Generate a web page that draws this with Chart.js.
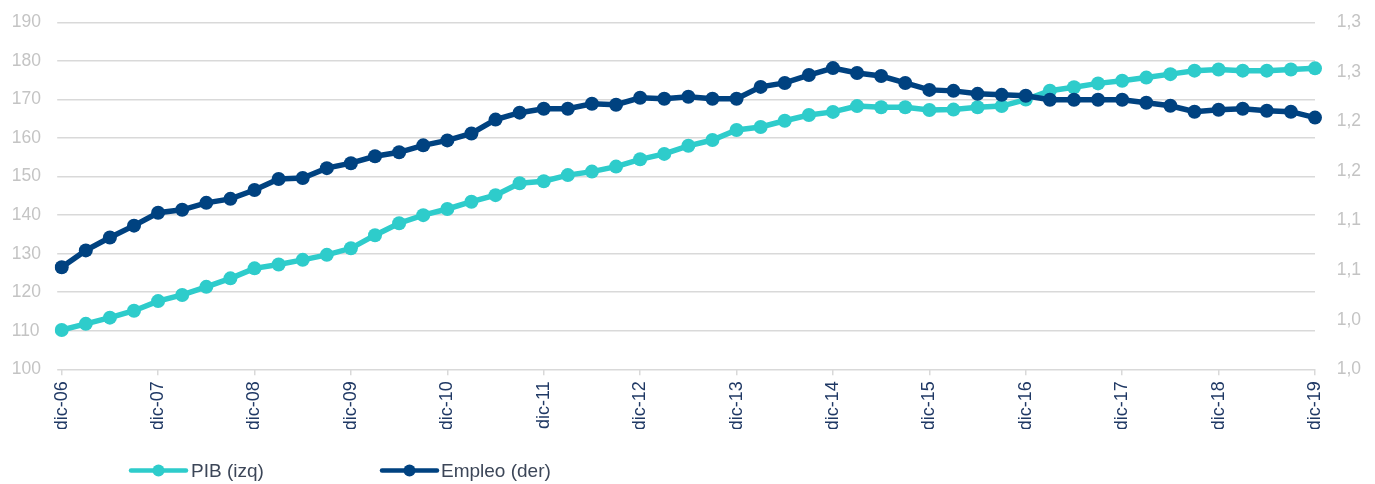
<!DOCTYPE html>
<html>
<head>
<meta charset="utf-8">
<script src="https://cdn.jsdelivr.net/npm/chart.js@4/dist/chart.umd.min.js"></script>
<style>
  html, body { margin: 0; padding: 0; background: #ffffff; }
  #wrap { width: 1375px; height: 484px; }
</style>
</head>
<body>
<div id="wrap"><canvas id="c" width="1375" height="484"></canvas></div>
<script>
// Quarterly categories, Dec-2006 .. Dec-2019
const categories = [
  'dic-06',
  'mar-07','jun-07','sep-07','dic-07',
  'mar-08','jun-08','sep-08','dic-08',
  'mar-09','jun-09','sep-09','dic-09',
  'mar-10','jun-10','sep-10','dic-10',
  'mar-11','jun-11','sep-11','dic-11',
  'mar-12','jun-12','sep-12','dic-12',
  'mar-13','jun-13','sep-13','dic-13',
  'mar-14','jun-14','sep-14','dic-14',
  'mar-15','jun-15','sep-15','dic-15',
  'mar-16','jun-16','sep-16','dic-16',
  'mar-17','jun-17','sep-17','dic-17',
  'mar-18','jun-18','sep-18','dic-18',
  'mar-19','jun-19','sep-19','dic-19'
];

// PIB (left axis)
const pibValues = [
  110.2,
  111.8, 113.4, 115.2, 117.7,
  119.3, 121.4, 123.6, 126.2,
  127.2, 128.4, 129.7, 131.4,
  134.8, 137.9, 140.0, 141.6,
  143.5, 145.2, 148.3, 148.8,
  150.4, 151.3, 152.6, 154.5,
  155.9, 158.0, 159.5, 162.1,
  162.9, 164.5, 166.0, 166.8,
  168.3, 168.0, 168.0, 167.3,
  167.4, 168.0, 168.3, 170.0,
  172.3, 173.2, 174.2, 174.9,
  175.7, 176.6, 177.5, 177.8,
  177.5, 177.5, 177.8, 178.1
];

// Empleo (right axis)
const empleoValues = [
  1.053,
  1.070, 1.083, 1.095, 1.108,
  1.111, 1.118, 1.122, 1.131,
  1.142, 1.143, 1.153, 1.158,
  1.165, 1.169, 1.176, 1.181,
  1.188, 1.202, 1.209, 1.213,
  1.213, 1.218, 1.217, 1.224,
  1.223, 1.225, 1.223, 1.223,
  1.235, 1.239, 1.247, 1.254,
  1.249, 1.246, 1.239, 1.232,
  1.231, 1.228, 1.227, 1.226,
  1.222, 1.222, 1.222, 1.222,
  1.219, 1.216, 1.210, 1.212,
  1.213, 1.211, 1.210, 1.204
];

const seriesNames = ['PIB (izq)', 'Empleo (der)'];
const leftTicks = { min: 100, max: 190, step: 10 };
const rightTicks = { min: 0.95, max: 1.30, step: 0.05 };

const TEAL = '#2ecccb';
const NAVY = '#004280';
const FONT = "'Liberation Sans', Arial, Helvetica, sans-serif";

// Legend drawn on the canvas below the plot (line + dot marker, then label)
const bottomLegend = {
  id: 'bottomLegend',
  afterDraw(chart) {
    const ctx = chart.ctx;
    const items = [
      { x0: 131, lineW: 55, textX: 191 },
      { x0: 382, lineW: 55, textX: 441 }
    ];
    const cy = 470.5;
    ctx.save();
    chart.data.datasets.forEach((ds, i) => {
      const it = items[i];
      ctx.strokeStyle = ds.borderColor;
      ctx.lineWidth = 4.5;
      ctx.lineCap = 'round';
      ctx.beginPath();
      ctx.moveTo(it.x0, cy);
      ctx.lineTo(it.x0 + it.lineW, cy);
      ctx.stroke();
      ctx.fillStyle = ds.borderColor;
      ctx.beginPath();
      ctx.arc(it.x0 + it.lineW / 2, cy, 6, 0, Math.PI * 2);
      ctx.fill();
      ctx.fillStyle = '#3c4658';
      ctx.font = '19px ' + FONT;
      ctx.textBaseline = 'middle';
      ctx.textAlign = 'left';
      ctx.fillText(ds.label, it.textX, cy + 1);
    });
    ctx.restore();
  }
};

new Chart(document.getElementById('c'), {
  type: 'line',
  data: {
    labels: categories,
    datasets: [
      {
        label: seriesNames[0],
        data: pibValues,
        yAxisID: 'y',
        borderColor: TEAL,
        backgroundColor: TEAL,
        pointBackgroundColor: TEAL,
        pointBorderColor: TEAL,
        borderWidth: 5.5,
        pointRadius: 7,
        pointBorderWidth: 0,
        tension: 0,
        order: 1
      },
      {
        label: seriesNames[1],
        data: empleoValues,
        yAxisID: 'y1',
        borderColor: NAVY,
        backgroundColor: NAVY,
        pointBackgroundColor: NAVY,
        pointBorderColor: NAVY,
        borderWidth: 5.5,
        pointRadius: 7,
        pointBorderWidth: 0,
        tension: 0,
        order: 0
      }
    ]
  },
  options: {
    responsive: false,
    animation: false,
    devicePixelRatio: 1,
    layout: { padding: { top: 22.5, bottom: 55, left: 11.7, right: 14 } },
    plugins: {
      legend: { display: false },
      tooltip: { enabled: false }
    },
    scales: {
      x: {
        type: 'category',
        offset: false,
        afterFit(scale) { scale.height = 59.7; },
        grid: {
          display: true,
          drawOnChartArea: false,
          drawTicks: true,
          tickLength: 6,
          color: '#d9d9d9',
          lineWidth: 1.5
        },
        border: { display: false },
        ticks: {
          autoSkip: false,
          maxRotation: 90,
          minRotation: 90,
          padding: 6,
          color: '#1f3864',
          font: { family: FONT, size: 18 },
          callback: function (value) {
            const l = this.getLabelForValue(value);
            return l.startsWith('dic') ? l : null;
          }
        }
      },
      y: {
        position: 'left',
        min: leftTicks.min,
        max: leftTicks.max,
        afterFit(scale) { scale.width = 50; },
        grid: {
          color: '#d9d9d9',
          lineWidth: 1.5,
          drawTicks: true,
          tickLength: 4.5
        },
        border: { display: false },
        ticks: {
          stepSize: leftTicks.step,
          padding: 0,
          crossAlign: 'far',
          color: '#c4c4c4',
          font: { family: FONT, size: 17.5 }
        }
      },
      y1: {
        position: 'right',
        min: rightTicks.min,
        max: rightTicks.max,
        afterFit(scale) { scale.width = 46; },
        grid: { display: false, drawTicks: false, drawOnChartArea: false },
        border: { display: false },
        ticks: {
          stepSize: rightTicks.step,
          padding: 0,
          crossAlign: 'far',
          color: '#c4c4c4',
          font: { family: FONT, size: 17.5 },
          callback: (v) => (Math.round(v * 10 + 1e-6) / 10).toFixed(1).replace('.', ',')
        }
      }
    }
  },
  plugins: [bottomLegend]
});
</script>
</body>
</html>
